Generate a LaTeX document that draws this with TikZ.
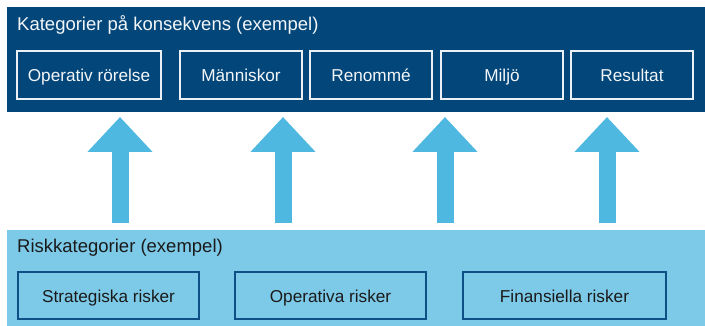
\documentclass[tikz,border=0pt]{standalone}
\usepackage{fontspec}
\setmainfont{Liberation Sans}
\usetikzlibrary{arrows.meta}

\definecolor{navy}{HTML}{03467A}
\definecolor{skyfill}{HTML}{7DCAE8}
\definecolor{arrowblue}{HTML}{4FB8E0}
\definecolor{riskedge}{HTML}{0E4F86}
\definecolor{inktext}{HTML}{1A1A1A}

\tikzset{
  paneltitle/.style={anchor=base west, inner sep=0pt, font=\fontsize{18.5}{22}\selectfont},
  labelbox/.style={inner sep=0pt, text height=17pt, text depth=3pt,
    font=\fontsize{17.2}{20}\selectfont},
  consbox/.style={labelbox, draw=white!92!navy, line width=1.2pt, fill=navy,
    text=white!95!navy, minimum height=48pt},
  riskbox/.style={labelbox, draw=riskedge, line width=1.4pt, fill=skyfill,
    text=inktext, minimum height=47pt},
  blockarrow/.style={line width=17pt, draw=arrowblue,
    -{Triangle[width=63pt,length=35pt,fill=arrowblue]}}
}

\begin{document}
\begin{tikzpicture}[x=1pt,y=-1pt]
  \useasboundingbox (0,0) rectangle (705,326);

  % consequence panel
  \fill[navy] (7,7) rectangle (705,112);
  \node[paneltitle, text=white!95!navy] (constitle) at (17,31) {Kategorier på konsekvens (exempel)};
  \node[consbox, minimum width=144pt] (c1) at (89,75)  {Operativ rörelse};
  \node[consbox, minimum width=122pt] (c2) at (241,75) {Människor};
  \node[consbox, minimum width=122pt] (c3) at (371,75) {Renommé};
  \node[consbox, minimum width=122pt] (c4) at (502,75) {Miljö};
  \node[consbox, minimum width=122pt] (c5) at (632,75) {Resultat};

  % risk panel
  \fill[skyfill] (7,230) rectangle (705,326);
  \node[paneltitle, text=inktext] (risktitle) at (17,253) {Riskkategorier (exempel)};
  \node[riskbox, minimum width=181pt] (r1) at (108.5,295.5) {Strategiska risker};
  \node[riskbox, minimum width=191pt] (r2) at (330.5,295.5) {Operativa risker};
  \node[riskbox, minimum width=203pt] (r3) at (564.5,295.5) {Finansiella risker};

  % upward block arrows between the panels
  \foreach \i/\x in {1/120, 2/283, 3/445, 4/607} {
    \coordinate (foot\i) at (\x,223.5);
    \coordinate (tip\i)  at (\x,117);
    \draw[blockarrow] (foot\i) -- (tip\i);
  }
\end{tikzpicture}
\end{document}
